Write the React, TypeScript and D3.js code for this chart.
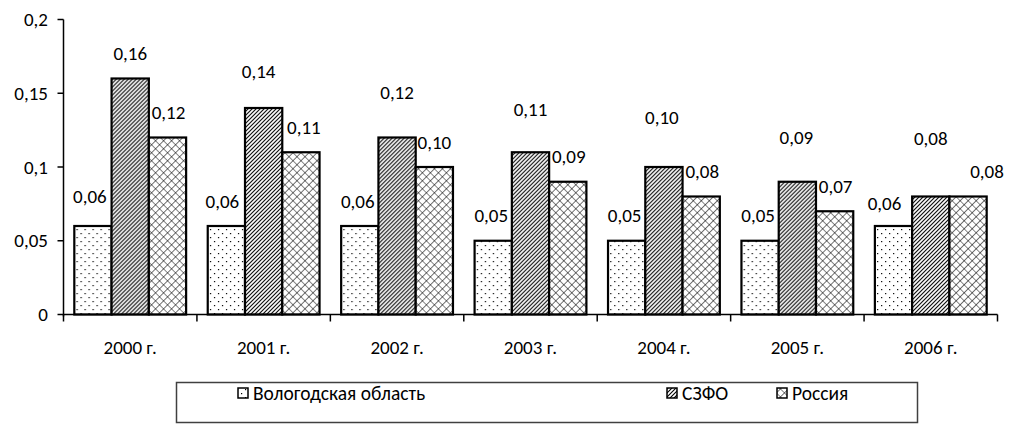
import React from "react";
import * as d3 from "d3";

const categories = ["2000 г.", "2001 г.", "2002 г.", "2003 г.", "2004 г.", "2005 г.", "2006 г."];
const seriesNames = ["Вологодская область", "СЗФО", "Россия"];
const vologda = [0.06, 0.06, 0.06, 0.05, 0.05, 0.05, 0.06];
const szfo = [0.16, 0.14, 0.12, 0.11, 0.10, 0.09, 0.08];
const russia = [0.12, 0.11, 0.10, 0.09, 0.08, 0.07, 0.08];
const yTicks = [0, 0.05, 0.1, 0.15, 0.2];
const yTickLabels = ["0", "0,05", "0,1", "0,15", "0,2"];

// manual label placement in the source chart: lift above bar top and horizontal nudge (px)
const liftVologda = [30, 25, 25, 25, 25, 25, 23];
const liftSzfo = [25, 37, 45, 43, 50, 44, 58];
const liftRussia = [25, 25, 25, 25, 25, 25, 25];
const dxVologda = [-3, -4, -2, -2, -2, -2, -9];
const dxSzfo = [0, -5, 0, 0, -2, -1, 0];
const dxRussia = [1, 3, 0, 1, 1, 1, 19];

const W = 1011;
const H = 424;
const FONT = "Calibri, Carlito, Lato, sans-serif";

export default function App() {
  const left = 63.5;
  const right = 997.5;
  const top = 19.5;
  const bottom = 314.5;

  const x0 = d3.scaleBand<string>().domain(categories).range([left, right]).paddingInner(0).paddingOuter(0);
  const x1 = d3.scaleBand<string>().domain(seriesNames).range([0, x0.bandwidth()]).paddingInner(0).paddingOuter(0.29);
  const y = d3.scaleLinear().domain([0, 0.2]).range([bottom, top]);

  const data = [vologda, szfo, russia];
  const lifts = [liftVologda, liftSzfo, liftRussia];
  const dxs = [dxVologda, dxSzfo, dxRussia];
  const fills = ["url(#pDots)", "url(#pDiag)", "url(#pCross)"];
  const fmt = (v: number) => v.toFixed(2).replace(".", ",");

  const boundaries = categories.map((c) => x0(c)!).concat([right]);

  const legendItems = [
    { name: seriesNames[0], x: 238, fill: fills[0] },
    { name: seriesNames[1], x: 667, fill: fills[1] },
    { name: seriesNames[2], x: 777, fill: fills[2] },
  ];

  return (
    <svg width={W} height={H} style={{ position: "absolute", left: 0, top: 0, background: "#fff" }} fontFamily={FONT}>
      <defs>
        <pattern id="pDots" width={8} height={8} patternUnits="userSpaceOnUse">
          <rect width={8} height={8} fill="#fff" />
          <rect x={1} y={1} width={1.2} height={1.2} fill="#000" />
          <rect x={5} y={5} width={1.2} height={1.2} fill="#000" />
        </pattern>
        <pattern id="pDiag" width={4} height={4} patternUnits="userSpaceOnUse">
          <rect width={4} height={4} fill="#fff" />
          <path d="M-1,1 L1,-1 M0,4 L4,0 M3,5 L5,3" stroke="#000" strokeWidth={1.1} />
        </pattern>
        <pattern id="pCross" width={5.66} height={5.66} patternUnits="userSpaceOnUse" patternTransform="rotate(45)">
          <rect width={5.66} height={5.66} fill="#fff" />
          <path d="M0,0 H5.66 M0,0 V5.66" stroke="#000" strokeWidth={1.1} />
        </pattern>
      </defs>

      {/* bars */}
      {categories.map((c, ci) => (
        <g key={c} transform={`translate(${x0(c)},0)`}>
          {seriesNames.map((s, si) => {
            const v = data[si][ci];
            return (
              <rect
                key={s}
                x={x1(s)}
                y={y(v)}
                width={x1.bandwidth()}
                height={y(0) - y(v)}
                fill={fills[si]}
                stroke="#000"
                strokeWidth={2.2}
              />
            );
          })}
        </g>
      ))}

      {/* value labels */}
      {categories.map((c, ci) =>
        seriesNames.map((s, si) => {
          const v = data[si][ci];
          return (
            <text
              key={c + s}
              x={x0(c)! + x1(s)! + x1.bandwidth() / 2 + dxs[si][ci]}
              y={y(v) - lifts[si][ci]}
              textAnchor="middle"
              dominantBaseline="central"
              fontSize={19}
              fill="#000"
            >
              {fmt(v)}
            </text>
          );
        })
      )}

      {/* y axis */}
      <line x1={left} x2={left} y1={top} y2={bottom + 2} stroke="#000" strokeWidth={1.5} />
      {yTicks.map((t, i) => (
        <g key={t}>
          <line x1={left - 6} x2={left} y1={y(t)} y2={y(t)} stroke="#000" strokeWidth={1.5} />
          <text x={48} y={y(t)} textAnchor="end" dominantBaseline="central" fontSize={19} fill="#000">
            {yTickLabels[i]}
          </text>
        </g>
      ))}

      {/* x axis */}
      <line x1={left} x2={right} y1={bottom} y2={bottom} stroke="#000" strokeWidth={1.5} />
      {boundaries.map((b, i) => (
        <line key={i} x1={b} x2={b} y1={bottom} y2={bottom + 7} stroke="#000" strokeWidth={1.5} />
      ))}
      {categories.map((c) => (
        <text key={c} x={x0(c)! + x0.bandwidth() / 2} y={347} textAnchor="middle" dominantBaseline="central" fontSize={19} fill="#000">
          {c}
        </text>
      ))}

      {/* legend */}
      <rect x={176.5} y={382.5} width={741} height={40} fill="#fff" stroke="#404040" strokeWidth={1.5} />
      {legendItems.map((it) => (
        <g key={it.name}>
          <rect x={it.x} y={388} width={10} height={10} fill={it.fill} stroke="#000" strokeWidth={1.5} />
          <text x={it.x + 15} y={393} dominantBaseline="central" fontSize={19.5} fill="#000">
            {it.name}
          </text>
        </g>
      ))}
    </svg>
  );
}
